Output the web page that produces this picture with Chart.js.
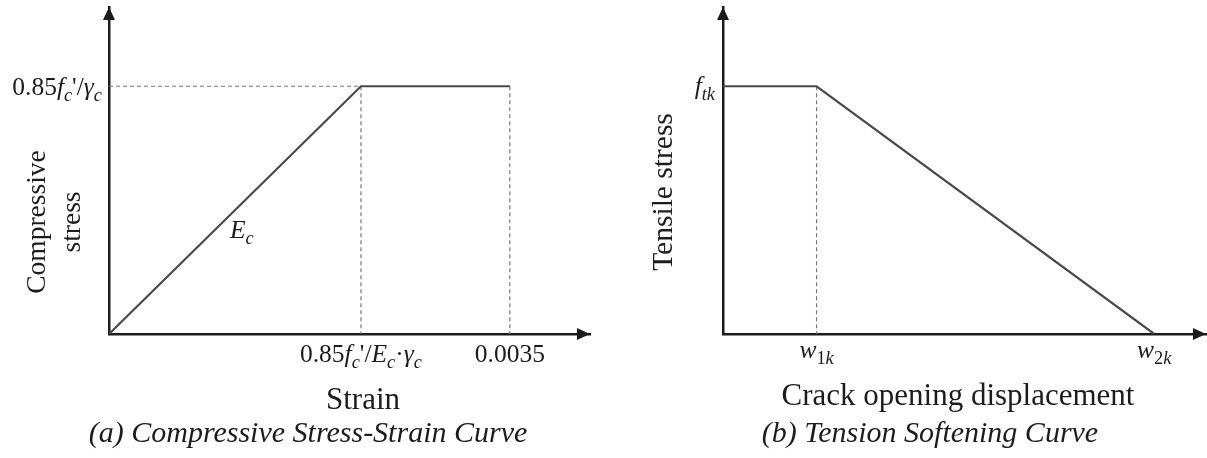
<!DOCTYPE html>
<html>
<head>
<meta charset="utf-8">
<script src="https://cdn.jsdelivr.net/npm/chart.js@4.4.1/dist/chart.umd.min.js"></script>
<style>
  html, body { margin: 0; padding: 0; background: #fff; }
  #wrap { position: relative; width: 1207px; height: 458px; }
  canvas { position: absolute; top: 0; }
  #compChart { left: 0; }
  #tensChart { left: 610px; }
</style>
</head>
<body>
<div id="wrap">
  <canvas id="compChart" width="610" height="458"></canvas>
  <canvas id="tensChart" width="597" height="458"></canvas>
</div>
<script>
// (a) compressive stress-strain, stress normalised to 0.85f'c/γc
const compStrain = [0, 0.0022, 0.0035];
const compStress = [0, 1, 1];
const compTickLabelsX = ["0.85*f*_{*c*}'/*E*_{*c*}·*γ*_{*c*}", '0.0035'];
const compTickLabelsY = ["0.85*f*_{*c*}'/*γ*_{*c*}"];

// (b) tension softening, stress normalised to ftk, opening to w2k
const crackOpening = [0, 0.217, 1];
const tensStress = [1, 1, 0];
const tensTickLabelsX = ['*w*_{1*k*}', '*w*_{2*k*}'];
const tensTickLabelsY = ['*f*_{*tk*}'];

const SERIF = '"Liberation Serif", "Times New Roman", serif';
const INK = '#1c1c1c';
const CURVE = '#4a4a4a';
const GUIDE = '#7a7a7a';

// tiny markup: *..* italic, _{..} subscript
function parseRich(src) {
  const runs = [];
  let italic = false, sub = false, buf = '';
  const push = () => { if (buf) runs.push({ text: buf, italic, sub }); buf = ''; };
  for (let i = 0; i < src.length; i++) {
    const ch = src[i];
    if (ch === '*') { push(); italic = !italic; }
    else if (ch === '_' && src[i + 1] === '{') { push(); sub = true; i++; }
    else if (ch === '}' && sub) { push(); sub = false; }
    else buf += ch;
  }
  push();
  return runs;
}

function drawRich(ctx, src, x, y, size, align) {
  const runs = parseRich(src);
  const fontOf = r => (r.italic ? 'italic ' : '') + (r.sub ? size * 0.72 : size) + 'px ' + SERIF;
  let total = 0;
  runs.forEach(r => { ctx.font = fontOf(r); r.w = ctx.measureText(r.text).width; total += r.w; });
  let cx = align === 'center' ? x - total / 2 : align === 'right' ? x - total : x;
  ctx.textAlign = 'left';
  ctx.textBaseline = 'alphabetic';
  runs.forEach(r => {
    ctx.font = fontOf(r);
    ctx.fillText(r.text, cx, r.sub ? y + size * 0.22 : y);
    cx += r.w;
  });
}

function points(xs, ys) {
  return xs.map((x, i) => ({ x, y: ys[i] }));
}

function guide(pts) {
  return {
    data: pts.map(p => ({ x: p[0], y: p[1] })),
    borderColor: GUIDE, borderWidth: 1.2, borderDash: [4, 3]
  };
}

// arrows, tick labels, titles and caption drawn over the chart
function annotate(cfg) {
  return {
    id: 'annotate',
    afterDraw(chart) {
      const { ctx, chartArea: a, scales: { x, y } } = chart;
      ctx.save();
      ctx.fillStyle = INK;

      // arrow heads on both axes
      ctx.beginPath();
      ctx.moveTo(a.left, a.top);
      ctx.lineTo(a.left - 6, a.top + 13);
      ctx.lineTo(a.left + 6, a.top + 13);
      ctx.closePath();
      ctx.moveTo(a.right, a.bottom);
      ctx.lineTo(a.right - 13, a.bottom - 6);
      ctx.lineTo(a.right - 13, a.bottom + 6);
      ctx.closePath();
      ctx.fill();

      cfg.xTicks.forEach((v, i) =>
        drawRich(ctx, cfg.xLabels[i], x.getPixelForValue(v), a.bottom + cfg.xLabelDy, cfg.tickSize, 'center'));
      cfg.yTicks.forEach((v, i) =>
        drawRich(ctx, cfg.yLabels[i], a.left - cfg.yLabelDx, y.getPixelForValue(v) + cfg.yLabelDy, cfg.tickSize, 'right'));

      if (cfg.note) {
        const n = cfg.note;
        drawRich(ctx, n.text, x.getPixelForValue(n.at[0]) + n.dx, y.getPixelForValue(n.at[1]) + n.dy, cfg.tickSize, 'left');
      }

      ctx.textAlign = 'center';
      ctx.textBaseline = 'alphabetic';
      ctx.font = '31px ' + SERIF;
      ctx.fillText(cfg.xTitle.text, cfg.xTitle.x, cfg.xTitle.y);

      ctx.font = cfg.yTitle.size + 'px ' + SERIF;
      cfg.yTitle.lines.forEach((line, i) => {
        ctx.save();
        ctx.translate(cfg.yTitle.x[i], cfg.yTitle.y);
        ctx.rotate(-Math.PI / 2);
        ctx.fillText(line, 0, 0);
        ctx.restore();
      });

      ctx.font = 'italic 30px ' + SERIF;
      ctx.fillText(cfg.caption.text, cfg.caption.x, cfg.caption.y);
      ctx.restore();
    }
  };
}

function axisOptions(min, max) {
  return {
    type: 'linear', min, max,
    ticks: { display: false },
    grid: { display: false, drawTicks: false },
    border: { display: true, color: INK, width: 2.5 }
  };
}

function baseOptions(xMax, yMax, padding) {
  return {
    responsive: false,
    animation: false,
    events: [],
    layout: { padding },
    elements: { point: { radius: 0 }, line: { tension: 0 } },
    plugins: { legend: { display: false }, tooltip: { enabled: false } },
    scales: { x: axisOptions(0, xMax), y: axisOptions(0, yMax) }
  };
}

const peakStrain = compStrain[1], ultStrain = compStrain[2], peakStress = compStress[1];

new Chart(document.getElementById('compChart'), {
  type: 'line',
  data: {
    datasets: [
      { data: points(compStrain, compStress), borderColor: CURVE, borderWidth: 2.2 },
      guide([[0, peakStress], [peakStrain, peakStress]]),
      guide([[peakStrain, peakStress], [peakStrain, 0]]),
      guide([[ultStrain, peakStress], [ultStrain, 0]])
    ]
  },
  options: baseOptions(0.0042, 1.32, { left: 109, top: 7, right: 20, bottom: 124 }),
  plugins: [annotate({
    tickSize: 25.5,
    xTicks: compStrain.slice(1), xLabels: compTickLabelsX, xLabelDy: 28,
    yTicks: [peakStress], yLabels: compTickLabelsY, yLabelDx: 7, yLabelDy: 9,
    note: { text: '*E*_{*c*}', at: [peakStrain / 2, peakStress / 2], dx: -5, dy: 28 },
    xTitle: { text: 'Strain', x: 363, y: 409 },
    yTitle: { lines: ['Compressive', 'stress'], x: [45, 80], y: 222, size: 27.5 },
    caption: { text: '(a) Compressive Stress-Strain Curve', x: 308, y: 442 }
  })]
});

const w1 = crackOpening[1], ft = tensStress[0];

new Chart(document.getElementById('tensChart'), {
  type: 'line',
  data: {
    datasets: [
      { data: points(crackOpening, tensStress), borderColor: CURVE, borderWidth: 2.2 },
      guide([[w1, ft], [w1, 0]])
    ]
  },
  options: baseOptions(1.12, 1.32, { left: 113, top: 7, right: 1, bottom: 124 }),
  plugins: [annotate({
    tickSize: 25.5,
    xTicks: crackOpening.slice(1), xLabels: tensTickLabelsX, xLabelDy: 24,
    yTicks: [ft], yLabels: tensTickLabelsY, yLabelDx: 8, yLabelDy: 8,
    xTitle: { text: 'Crack opening displacement', x: 348, y: 405 },
    yTitle: { lines: ['Tensile stress'], x: [62], y: 192, size: 29.5 },
    caption: { text: '(b) Tension Softening Curve', x: 320, y: 442 }
  })]
});
</script>
</body>
</html>
